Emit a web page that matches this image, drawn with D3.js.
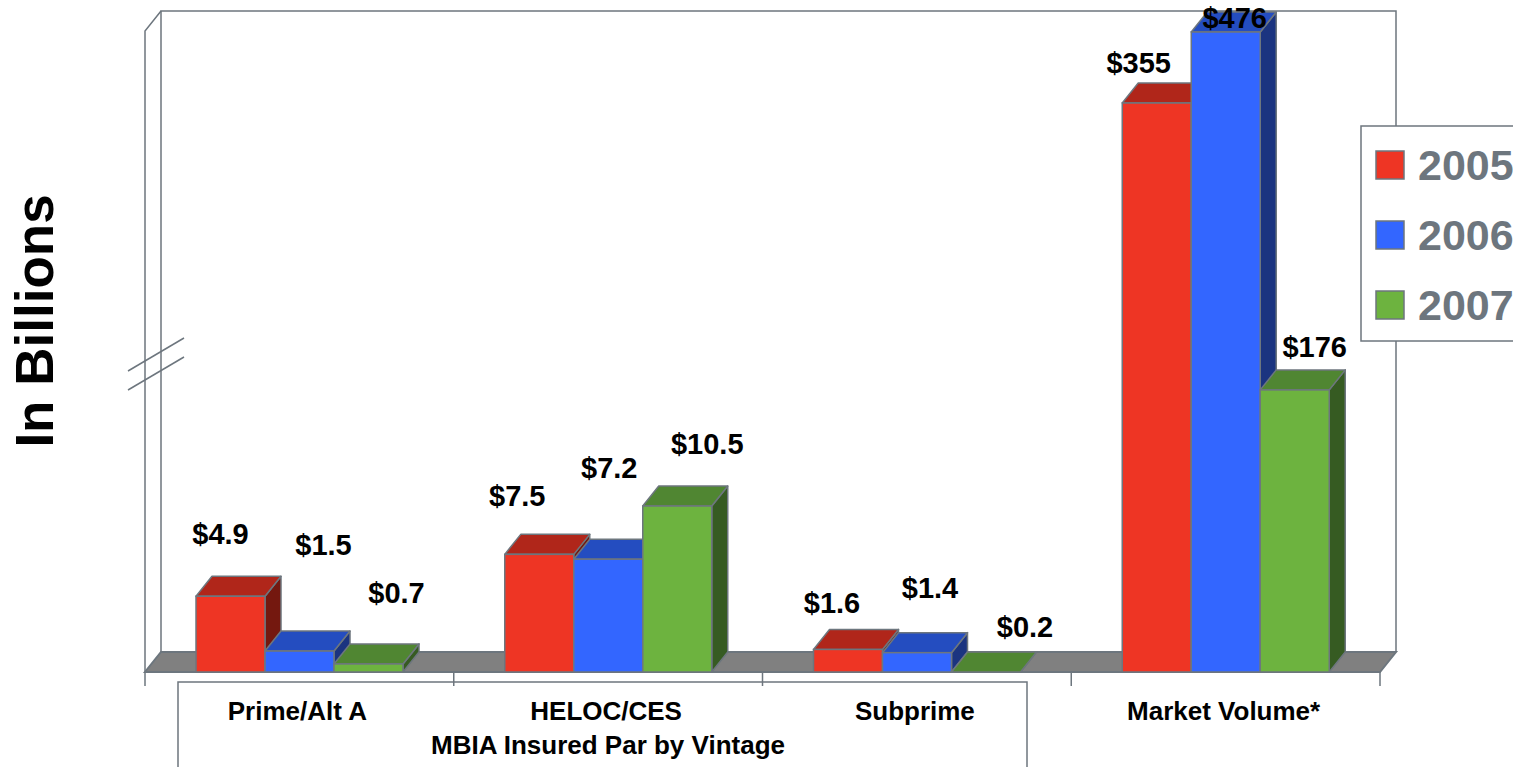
<!DOCTYPE html>
<html>
<head>
<meta charset="utf-8">
<script src="https://cdn.jsdelivr.net/npm/d3@7"></script>
<style>
  body { margin: 0; background: #fff; }
  svg { display: block; font-family: "Liberation Sans", Arial, sans-serif; font-weight: bold; }
</style>
</head>
<body>
<div id="chart"></div>
<script>
var categories = ["Prime/Alt A", "HELOC/CES", "Subprime", "Market Volume*"];
var years = ["2005", "2006", "2007"];
var v2005 = [4.9, 7.5, 1.6, 355];
var v2006 = [1.5, 7.2, 1.4, 476];
var v2007 = [0.7, 10.5, 0.2, 176];

// label nudges (dx, dy) from the front top centre of each bar, as placed in the original
var labelNudge = [
    [[-10, -52], [24, -96], [28, -61]],
    [[-22, -48], [1, -81], [30, -52]],
    [[-16, -36], [13, -55], [39, -35]],
    [[-18, -30], [9, -4], [20, -33]]
];

var colors = {
    "2005": { front: "#EE3524", top: "#B0261A", side: "#74180F" },
    "2006": { front: "#3366FF", top: "#244DC0", side: "#1B3480" },
    "2007": { front: "#6DB33F", top: "#508632", side: "#365B22" }
};
var edge = "#6D767E";

var width = 1513, height = 767;
var floorY = 672, dx = 16, dy = -20;

var svg = d3.select("#chart").append("svg")
    .attr("width", width)
    .attr("height", height);

var x = d3.scaleBand().domain(categories).range([145, 1380]);
var xs = d3.scaleBand().domain(years).range([51, 258]);
// MBIA par is on a small scale, market volume sits above the axis break
var yPar = d3.scaleLinear().domain([0.2, 10.5]).range([floorY, 506]).clamp(true);
var yMkt = d3.scaleLinear().domain([0, 355, 476]).range([floorY, 103, 32]);

var left = x.range()[0], right = x.range()[1];
var wallTop = 11;

// back wall
svg.append("path")
    .attr("d", "M" + (left + dx) + "," + (floorY + dy) + "V" + wallTop + "H" + (right + dx) + "V" + (floorY + dy))
    .attr("fill", "#fff").attr("stroke", edge).attr("stroke-width", 1.5);
// left wall edge
svg.append("path")
    .attr("d", "M" + left + "," + floorY + "V" + (wallTop - dy) + "L" + (left + dx) + "," + wallTop)
    .attr("fill", "none").attr("stroke", edge).attr("stroke-width", 1.5);
// floor
svg.append("path")
    .attr("d", "M" + left + "," + floorY + "H" + right + "l" + dx + "," + dy + "H" + (left + dx) + "Z")
    .attr("fill", "#808080").attr("stroke", edge).attr("stroke-width", 2);

// axis break marks
svg.append("g").selectAll("line").data([0, 19]).enter().append("line")
    .attr("x1", 128).attr("x2", 184)
    .attr("y1", d => 371 + d).attr("y2", d => 338 + d)
    .attr("stroke", edge).attr("stroke-width", 1.5);

// ticks between categories
var tickX = categories.map(c => x(c)).concat([right]);
svg.append("g").selectAll("line").data(tickX).enter().append("line")
    .attr("x1", d => d).attr("x2", d => d)
    .attr("y1", floorY).attr("y2", floorY + 14)
    .attr("stroke", edge).attr("stroke-width", 1.5);

// bracket box for MBIA categories
svg.append("rect")
    .attr("x", 178).attr("y", 682)
    .attr("width", 849).attr("height", 120)
    .attr("fill", "none").attr("stroke", edge).attr("stroke-width", 1.5);

var series = [v2005, v2006, v2007];
var bars = [];
categories.forEach(function (c, i) {
    var yScale = c === "Market Volume*" ? yMkt : yPar;
    years.forEach(function (yr, j) {
        var v = series[j][i];
        var x0 = x(c) + xs(yr);
        bars.push({ cat: c, year: yr, value: v, i: i, j: j,
            x0: x0, x1: x0 + xs.bandwidth(), top: yScale(v) });
    });
});

var barG = svg.append("g").selectAll("g").data(bars).enter().append("g");
barG.append("path")
    .attr("d", b => "M" + b.x1 + "," + floorY + "V" + b.top + "l" + dx + "," + dy + "V" + (floorY + dy) + "Z")
    .attr("fill", b => colors[b.year].side)
    .attr("stroke", edge).attr("stroke-width", 1.5).attr("stroke-linejoin", "round");
barG.append("path")
    .attr("d", b => "M" + b.x0 + "," + b.top + "H" + b.x1 + "l" + dx + "," + dy + "H" + (b.x0 + dx) + "Z")
    .attr("fill", b => colors[b.year].top)
    .attr("stroke", edge).attr("stroke-width", 1.5).attr("stroke-linejoin", "round");
barG.append("rect")
    .attr("x", b => b.x0).attr("y", b => b.top)
    .attr("width", xs.bandwidth()).attr("height", b => floorY - b.top)
    .attr("fill", b => colors[b.year].front)
    .attr("stroke", edge).attr("stroke-width", 1.5);

// value labels
svg.append("g").selectAll("text").data(bars).enter().append("text")
    .attr("x", b => (b.x0 + b.x1) / 2 + labelNudge[b.i][b.j][0])
    .attr("y", b => b.top + labelNudge[b.i][b.j][1])
    .attr("text-anchor", "middle")
    .attr("font-size", 29)
    .attr("fill", "#000")
    .text(b => "$" + b.value);

// category labels
svg.append("g").selectAll("text").data(categories).enter().append("text")
    .attr("x", c => x(c) + x.bandwidth() / 2 - 2)
    .attr("y", 720)
    .attr("text-anchor", "middle")
    .attr("font-size", 26)
    .text(c => c);

svg.append("text")
    .attr("x", 608).attr("y", 754)
    .attr("text-anchor", "middle")
    .attr("font-size", 26)
    .text("MBIA Insured Par by Vintage");

// y title
svg.append("text")
    .attr("transform", "translate(53,321) rotate(-90)")
    .attr("text-anchor", "middle")
    .attr("font-size", 53)
    .text("In Billions");

// legend
var legend = svg.append("g");
legend.append("rect")
    .attr("x", 1361).attr("y", 126)
    .attr("width", 200).attr("height", 215)
    .attr("fill", "#fff").attr("stroke", edge).attr("stroke-width", 1.5);
var item = legend.selectAll("g.item").data(years).enter().append("g")
    .attr("class", "item")
    .attr("transform", (d, k) => "translate(1376," + (151 + k * 70) + ")");
item.append("rect")
    .attr("width", 28).attr("height", 28)
    .attr("fill", d => colors[d].front)
    .attr("stroke", edge).attr("stroke-width", 1.5);
item.append("text")
    .attr("x", 42).attr("y", 29)
    .attr("font-size", 43)
    .attr("fill", edge)
    .text(d => d);
</script>
</body>
</html>
